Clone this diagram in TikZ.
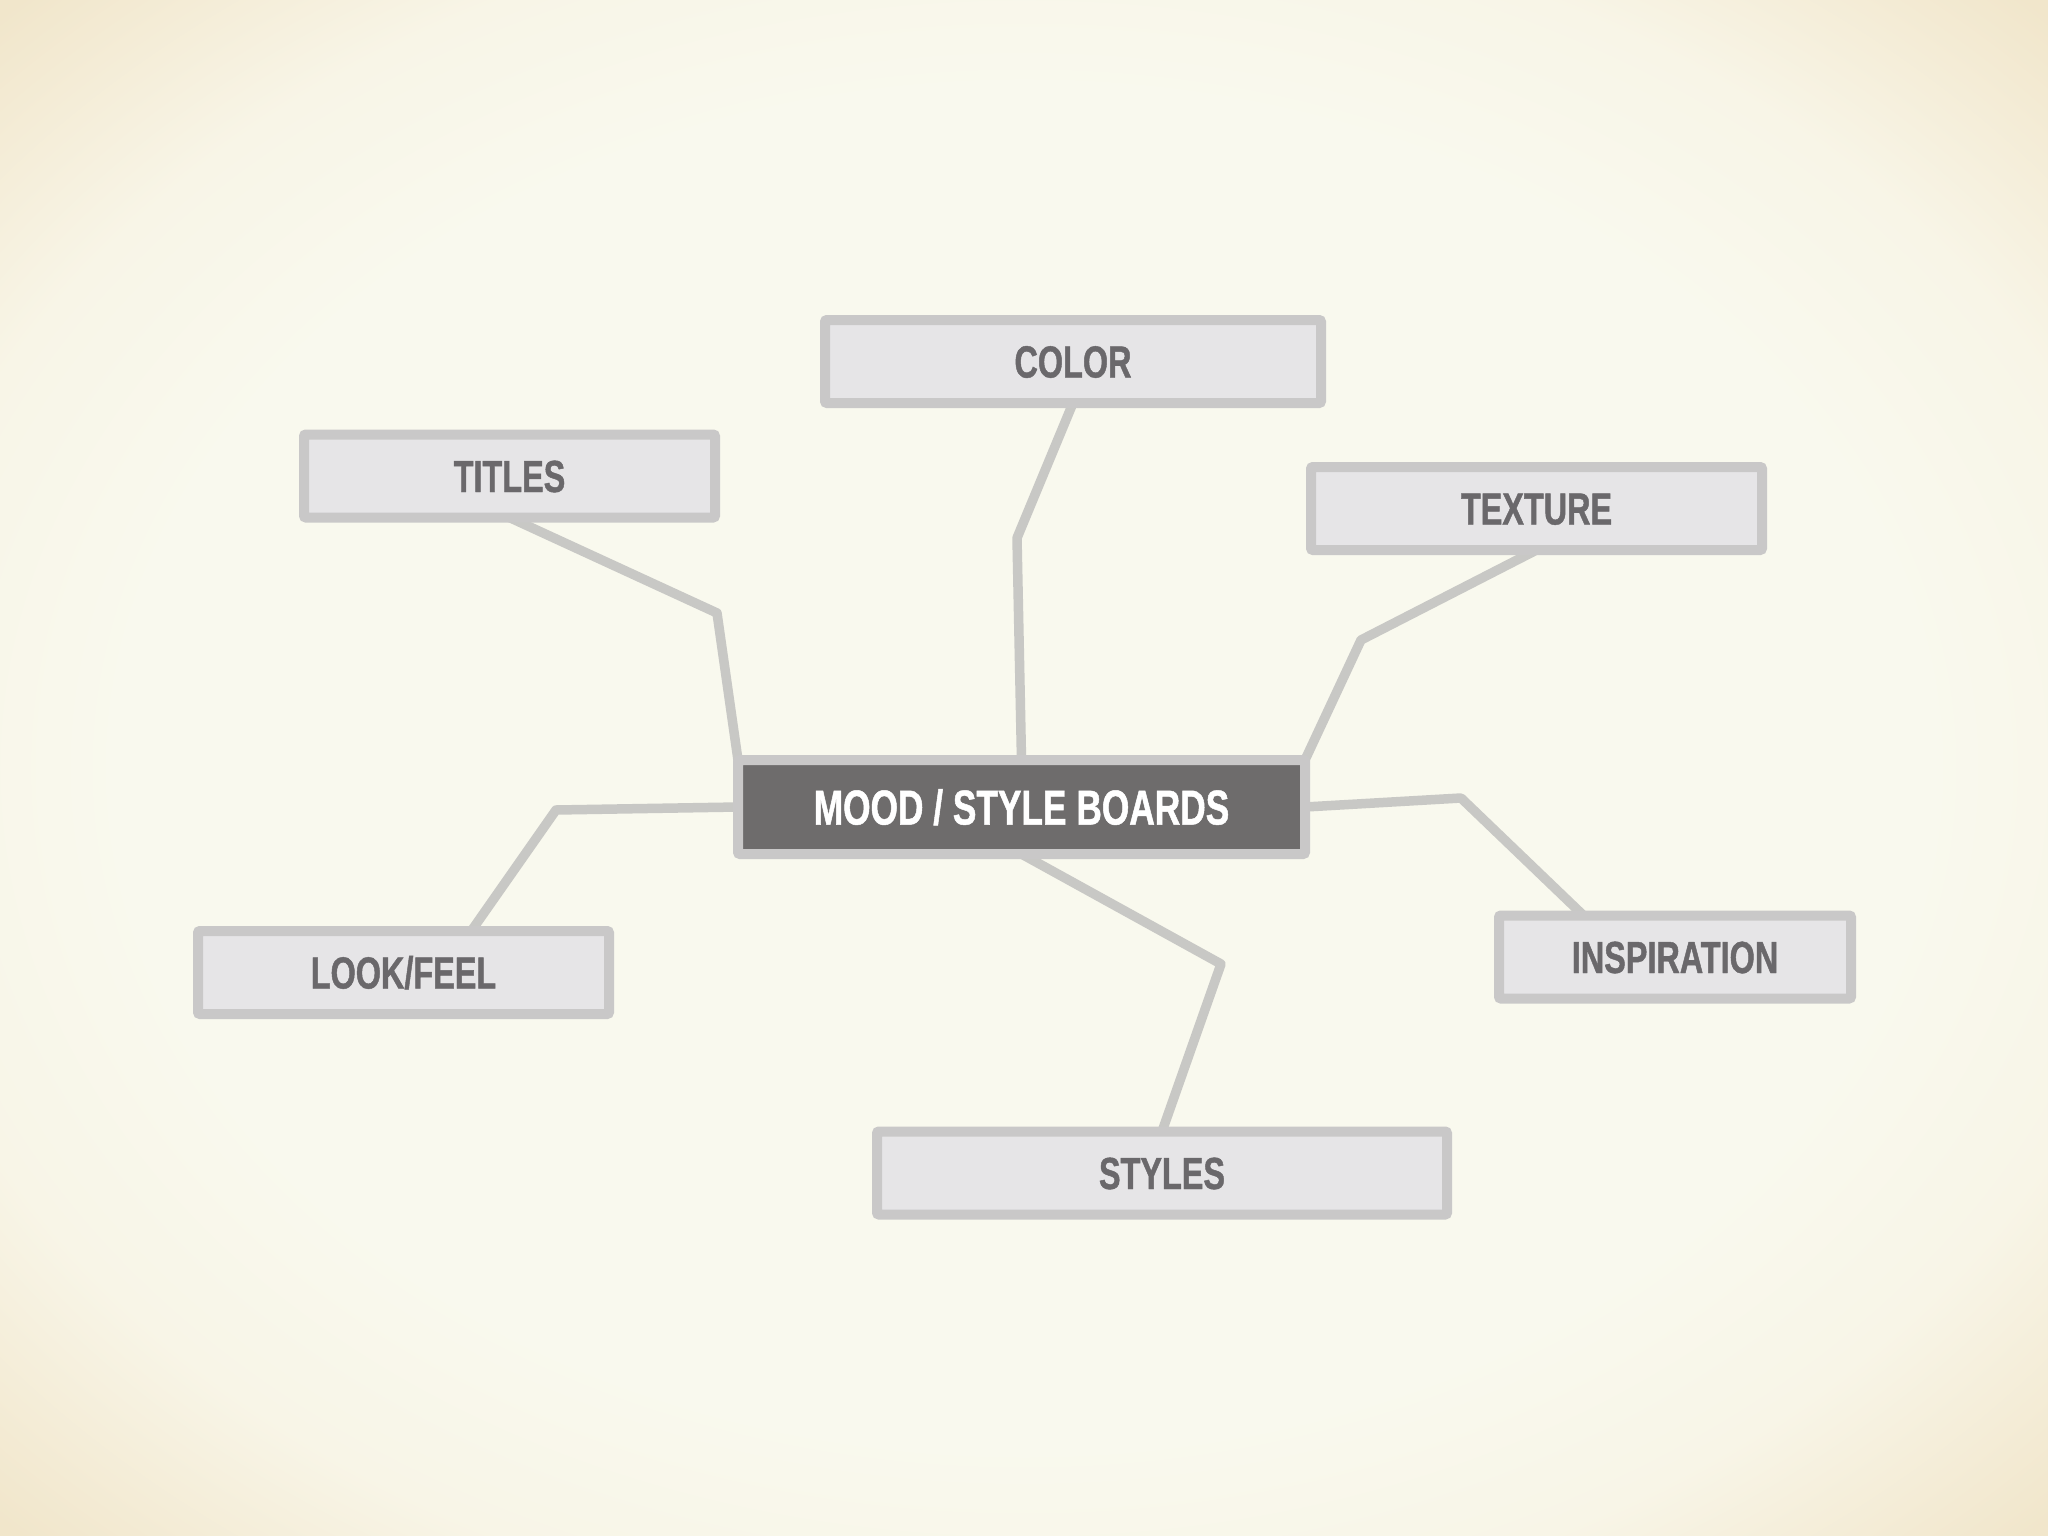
\documentclass[tikz,border=0pt]{standalone}
\usepackage{fontspec}
\newfontfamily\condfont{Liberation Sans}[FakeStretch=0.72, BoldFeatures={FakeBold=1}]
\usetikzlibrary{calc}
\definecolor{bgin}{HTML}{F9F9EE}
\definecolor{bgmid}{HTML}{F8F5E7}
\definecolor{bgout}{HTML}{F1E6CB}
\definecolor{boxfill}{HTML}{E6E5E7}
\definecolor{boxline}{HTML}{C9C8C8}
\definecolor{linkcol}{HTML}{C8C8C5}
\definecolor{labelcol}{HTML}{6A686B}
\definecolor{hubfill}{HTML}{6E6C6C}
\pgfdeclareradialshading{vign}{\pgfpoint{0bp}{0bp}}{color(0bp)=(bgin); color(22bp)=(bgin); color(28bp)=(bgmid); color(35bp)=(bgout); color(50bp)=(bgout)}
\pgfdeclarelayer{bg}
\pgfdeclarelayer{links}
\pgfsetlayers{bg,links,main}
\tikzset{
  topicbox/.style={draw=boxline, fill=boxfill, line width=10pt, rounded corners=2pt,
    outer sep=0pt, inner sep=0pt, text=labelcol,
    font=\condfont\bfseries\fontsize{45}{54}\selectfont,
    text height=32pt, text depth=0pt, minimum height=83pt},
  hubbox/.style={draw=boxline, fill=hubfill, line width=10pt, rounded corners=2pt,
    outer sep=0pt, inner sep=0pt, text=white,
    font=\condfont\bfseries\fontsize{49}{58}\selectfont,
    text height=35pt, text depth=0pt, minimum height=94pt, minimum width=567pt},
  link/.style={draw=linkcol, line width=9.5pt, line join=round}
}
\begin{document}
\begin{tikzpicture}[x=1pt,y=-1pt]
\useasboundingbox (0,0) rectangle (2048,1536);
\begin{pgfonlayer}{bg}
\shade[shading=vign] (0,0) rectangle (2048,1536);
\end{pgfonlayer}

\node[hubbox] (mood) at (1021.5,807) {MOOD / STYLE BOARDS};
\node[topicbox, minimum width=496pt] (color) at (1073,361.5) {COLOR};
\node[topicbox, minimum width=411pt] (titles) at (509.5,476) {TITLES};
\node[topicbox, minimum width=451pt] (texture) at (1536.5,508.5) {TEXTURE};
\node[topicbox, minimum width=411pt] (look) at (403.5,972.5) {LOOK/FEEL};
\node[topicbox, minimum width=352pt] (insp) at (1675,957) {INSPIRATION};
\node[topicbox, minimum width=570pt] (styles) at (1162,1173) {STYLES};

\coordinate (bT) at (717,613);
\coordinate (bC) at (1017,538);
\coordinate (bX) at (1361,640);
\coordinate (bL) at (556,810);
\coordinate (bI) at (1461,798);
\coordinate (bS) at (1221,964);

\begin{pgfonlayer}{links}
\draw[link] (titles.south) -- (bT) -- (mood.north west);
\draw[link] (color.south) -- (bC) -- (mood.north);
\draw[link] (texture.south) -- (bX) -- (mood.north east);
\draw[link] (mood.west) -- (bL) -- ($(look.north west)!0.665!(look.north east)$);
\draw[link] (mood.east) -- (bI) -- ($(insp.north west)!0.24!(insp.north east)$);
\draw[link] (mood.south) -- (bS) -- (styles.north);
\end{pgfonlayer}
\end{tikzpicture}
\end{document}
